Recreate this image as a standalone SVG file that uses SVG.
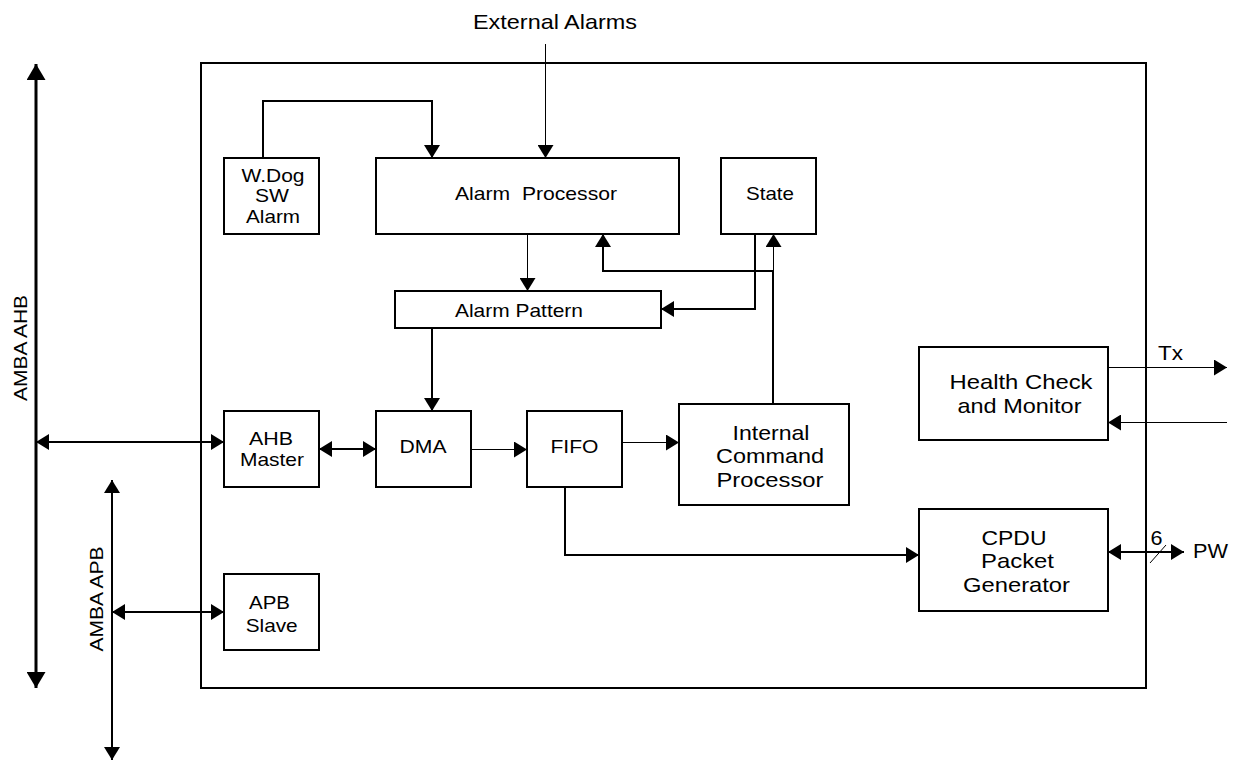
<svg xmlns="http://www.w3.org/2000/svg" width="1238" height="760" viewBox="0 0 1238 760">
<style>
.box{fill:#fff;stroke:#000;stroke-width:2}
.t{font-family:"Liberation Sans",Arial,sans-serif;font-size:18.5px;fill:#000;text-anchor:middle}
.tl{font-family:"Liberation Sans",Arial,sans-serif;font-size:21px;fill:#000;text-anchor:middle}
.ts{font-family:"Liberation Sans",Arial,sans-serif;font-size:20px;fill:#000}
.w2{fill:none;stroke:#000;stroke-width:2}
.w1{fill:none;stroke:#000;stroke-width:1}
.w3{fill:none;stroke:#000;stroke-width:3}
.a{marker-end:url(#ah)}
.ab{marker-start:url(#ah);marker-end:url(#ah)}
</style>
<defs>
<marker id="ah" viewBox="0 0 13 16" refX="13" refY="8" markerWidth="13" markerHeight="16" markerUnits="userSpaceOnUse" orient="auto-start-reverse"><path d="M0,0 L13,8 L0,16 z" fill="#000"/></marker>
<marker id="bh" viewBox="0 0 16 19" refX="16" refY="9.5" markerWidth="16" markerHeight="19" markerUnits="userSpaceOnUse" orient="auto-start-reverse"><path d="M0,0 L16,9.5 L0,19 z" fill="#000"/></marker>
</defs>
<rect width="1238" height="760" fill="#fff"/>
<g id="outer"><rect class="box" x="201" y="63" width="945" height="625" fill="none"/></g>
<g id="connectors">
<path class="w3" d="M36,64 V688" marker-start="url(#bh)" marker-end="url(#bh)"/>
<path class="w2 ab" d="M112,480 V760"/>
<path class="w2 a" d="M263,158 V101 H432 V158"/>
<path class="w1 a" d="M545.5,44 V158"/>
<path class="w1 a" d="M527.5,234 V291"/>
<path class="w2 a" d="M432,328 V411"/>
<path class="w2 a" d="M755,234 V309 H661"/>
<path class="w2" d="M773,404 V271"/>
<path class="w1 a" d="M773.5,271 V234"/>
<path class="w2 a" d="M773,271 H603 V234"/>
<path class="w2 ab" d="M36,442 H224"/>
<path class="w2 ab" d="M319,449 H376"/>
<path class="w1 a" d="M471,449.5 H527"/>
<path class="w1 a" d="M622,442.5 H679"/>
<path class="w2 a" d="M565,487 V555 H919"/>
<path class="w2 ab" d="M1108,552 H1184"/>
<path class="w1" d="M1150,563 L1166,545"/>
<path class="w1 a" d="M1108,367.5 H1227"/>
<path class="w1 a" d="M1227,422.5 H1108"/>
<path class="w2 ab" d="M112,612 H224"/>
</g>
<g id="labels">
<text class="tl" x="555" y="29" textLength="164" lengthAdjust="spacingAndGlyphs">External Alarms</text>
<text class="t" transform="translate(27,348) rotate(-90)" x="0" y="0" font-size="20.5" textLength="106" lengthAdjust="spacingAndGlyphs">AMBA AHB</text>
<text class="t" transform="translate(102.5,599) rotate(-90)" x="0" y="0" font-size="20.5" textLength="105" lengthAdjust="spacingAndGlyphs">AMBA APB</text>
<text class="ts" x="1158" y="360" textLength="25" lengthAdjust="spacingAndGlyphs">Tx</text>
<text class="ts" x="1193" y="558" textLength="35" lengthAdjust="spacingAndGlyphs">PW</text>
<text class="ts" x="1150.5" y="545" textLength="12" lengthAdjust="spacingAndGlyphs">6</text>
</g>
<g id="wdog"><rect class="box" x="224" y="158" width="95" height="76"/>
<text class="t" x="273" y="182" textLength="63" lengthAdjust="spacingAndGlyphs">W.Dog</text>
<text class="t" x="272" y="202" textLength="34" lengthAdjust="spacingAndGlyphs">SW</text>
<text class="t" x="273" y="223" textLength="54" lengthAdjust="spacingAndGlyphs">Alarm</text></g>
<g id="alarm-processor"><rect class="box" x="376" y="158" width="303" height="76"/>
<text class="t" x="536" y="200" xml:space="preserve" textLength="162" lengthAdjust="spacingAndGlyphs">Alarm  Processor</text></g>
<g id="state"><rect class="box" x="721" y="158" width="95" height="76"/>
<text class="t" x="770" y="200" textLength="48" lengthAdjust="spacingAndGlyphs">State</text></g>
<g id="alarm-pattern"><rect class="box" x="395" y="291" width="266" height="37"/>
<text class="t" x="519" y="317" textLength="128" lengthAdjust="spacingAndGlyphs">Alarm Pattern</text></g>
<g id="ahb-master"><rect class="box" x="224" y="411" width="95" height="76"/>
<text class="t" x="271" y="445" textLength="44" lengthAdjust="spacingAndGlyphs">AHB</text>
<text class="t" x="272" y="466" textLength="64" lengthAdjust="spacingAndGlyphs">Master</text></g>
<g id="dma"><rect class="box" x="376" y="411" width="95" height="76"/>
<text class="t" x="423" y="453" textLength="47" lengthAdjust="spacingAndGlyphs">DMA</text></g>
<g id="fifo"><rect class="box" x="527" y="411" width="95" height="76"/>
<text class="t" x="574.5" y="453" textLength="48" lengthAdjust="spacingAndGlyphs">FIFO</text></g>
<g id="icp"><rect class="box" x="679" y="404" width="170" height="101"/>
<text class="tl" x="771" y="440" textLength="77" lengthAdjust="spacingAndGlyphs">Internal</text>
<text class="tl" x="770" y="463" textLength="108" lengthAdjust="spacingAndGlyphs">Command</text>
<text class="tl" x="770" y="487" textLength="107" lengthAdjust="spacingAndGlyphs">Processor</text></g>
<g id="health"><rect class="box" x="919" y="347" width="189" height="93"/>
<text class="tl" x="1021" y="389" textLength="143" lengthAdjust="spacingAndGlyphs">Health Check</text>
<text class="tl" x="1019.5" y="413" textLength="124" lengthAdjust="spacingAndGlyphs">and Monitor</text></g>
<g id="cpdu"><rect class="box" x="919" y="509" width="189" height="102"/>
<text class="tl" x="1014" y="545" textLength="65" lengthAdjust="spacingAndGlyphs">CPDU</text>
<text class="tl" x="1017.5" y="568" textLength="73" lengthAdjust="spacingAndGlyphs">Packet</text>
<text class="tl" x="1016.5" y="592" textLength="107" lengthAdjust="spacingAndGlyphs">Generator</text></g>
<g id="apb-slave"><rect class="box" x="224" y="574" width="95" height="76"/>
<text class="t" x="269.5" y="609" textLength="41" lengthAdjust="spacingAndGlyphs">APB</text>
<text class="t" x="271.7" y="632" textLength="52" lengthAdjust="spacingAndGlyphs">Slave</text></g>
</svg>
